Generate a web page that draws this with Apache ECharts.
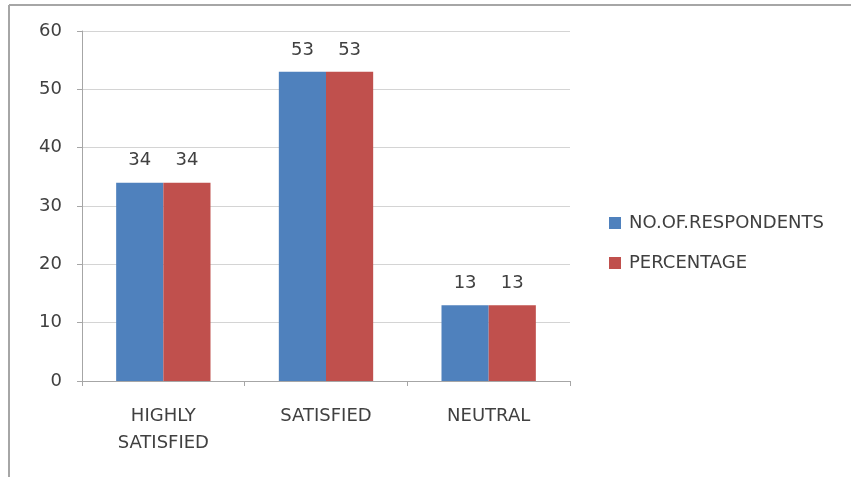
<!DOCTYPE html>
<html><head><meta charset="utf-8">
<script src="https://cdn.jsdelivr.net/npm/echarts@6/dist/echarts.min.js"></script>
<style>html,body{margin:0;padding:0;background:#fff}#c{width:851px;height:477px}</style>
</head><body><div id="c"></div>
<script>
var categories = ['HIGHLY\nSATISFIED', 'SATISFIED', 'NEUTRAL'];
var respondents = [34, 53, 13];
var percentage = [34, 53, 13];
var seriesNames = ['NO.OF.RESPONDENTS', 'PERCENTAGE'];
var yTicks = [0, 10, 20, 30, 40, 50, 60];

var chart = echarts.init(document.getElementById('c'), null, {renderer: 'canvas'});
var font = 'DejaVu Sans';
var txt = '#404040';
var fs = 18;
function lbl() {
  return {show: true, position: 'top', distance: 13, color: txt, fontFamily: font, fontSize: fs};
}
chart.setOption({
  animation: false,
  backgroundColor: '#fff',
  graphic: [
    {type: 'line', shape: {x1: 9, y1: 5, x2: 851, y2: 5}, style: {stroke: '#a6a6a6', lineWidth: 2}},
    {type: 'line', shape: {x1: 9, y1: 5, x2: 9, y2: 477}, style: {stroke: '#a6a6a6', lineWidth: 2}}
  ],
  legend: {
    orient: 'vertical', left: 604, top: 209, itemGap: 22,
    itemWidth: 12, itemHeight: 12, icon: 'rect',
    textStyle: {color: txt, fontFamily: font, fontSize: fs, padding: [0, 0, 0, 3]},
    data: seriesNames
  },
  grid: {left: 82, right: 281, top: 31, bottom: 96, containLabel: false},
  xAxis: {
    type: 'category', data: categories,
    axisLine: {lineStyle: {color: '#a6a6a6'}},
    axisTick: {show: true, length: 5, lineStyle: {color: '#a6a6a6'}},
    axisLabel: {color: txt, fontFamily: font, fontSize: fs, margin: 22, lineHeight: 27}
  },
  yAxis: {
    type: 'value', min: 0, max: 60, interval: 10,
    axisLine: {show: true, lineStyle: {color: '#a6a6a6'}},
    axisTick: {show: true, length: 5, lineStyle: {color: '#a6a6a6'}},
    splitLine: {lineStyle: {color: '#d4d4d4'}},
    axisLabel: {color: txt, fontFamily: font, fontSize: fs, margin: 20,
      formatter: function (v) { return yTicks.indexOf(v) >= 0 ? String(v) : ''; }}
  },
  series: [
    {name: seriesNames[0], type: 'bar', data: respondents, barGap: '0%', barCategoryGap: '42%',
     itemStyle: {color: '#4f81bd'}, label: lbl()},
    {name: seriesNames[1], type: 'bar', data: percentage,
     itemStyle: {color: '#c0504d'}, label: lbl()}
  ]
});
</script></body></html>
